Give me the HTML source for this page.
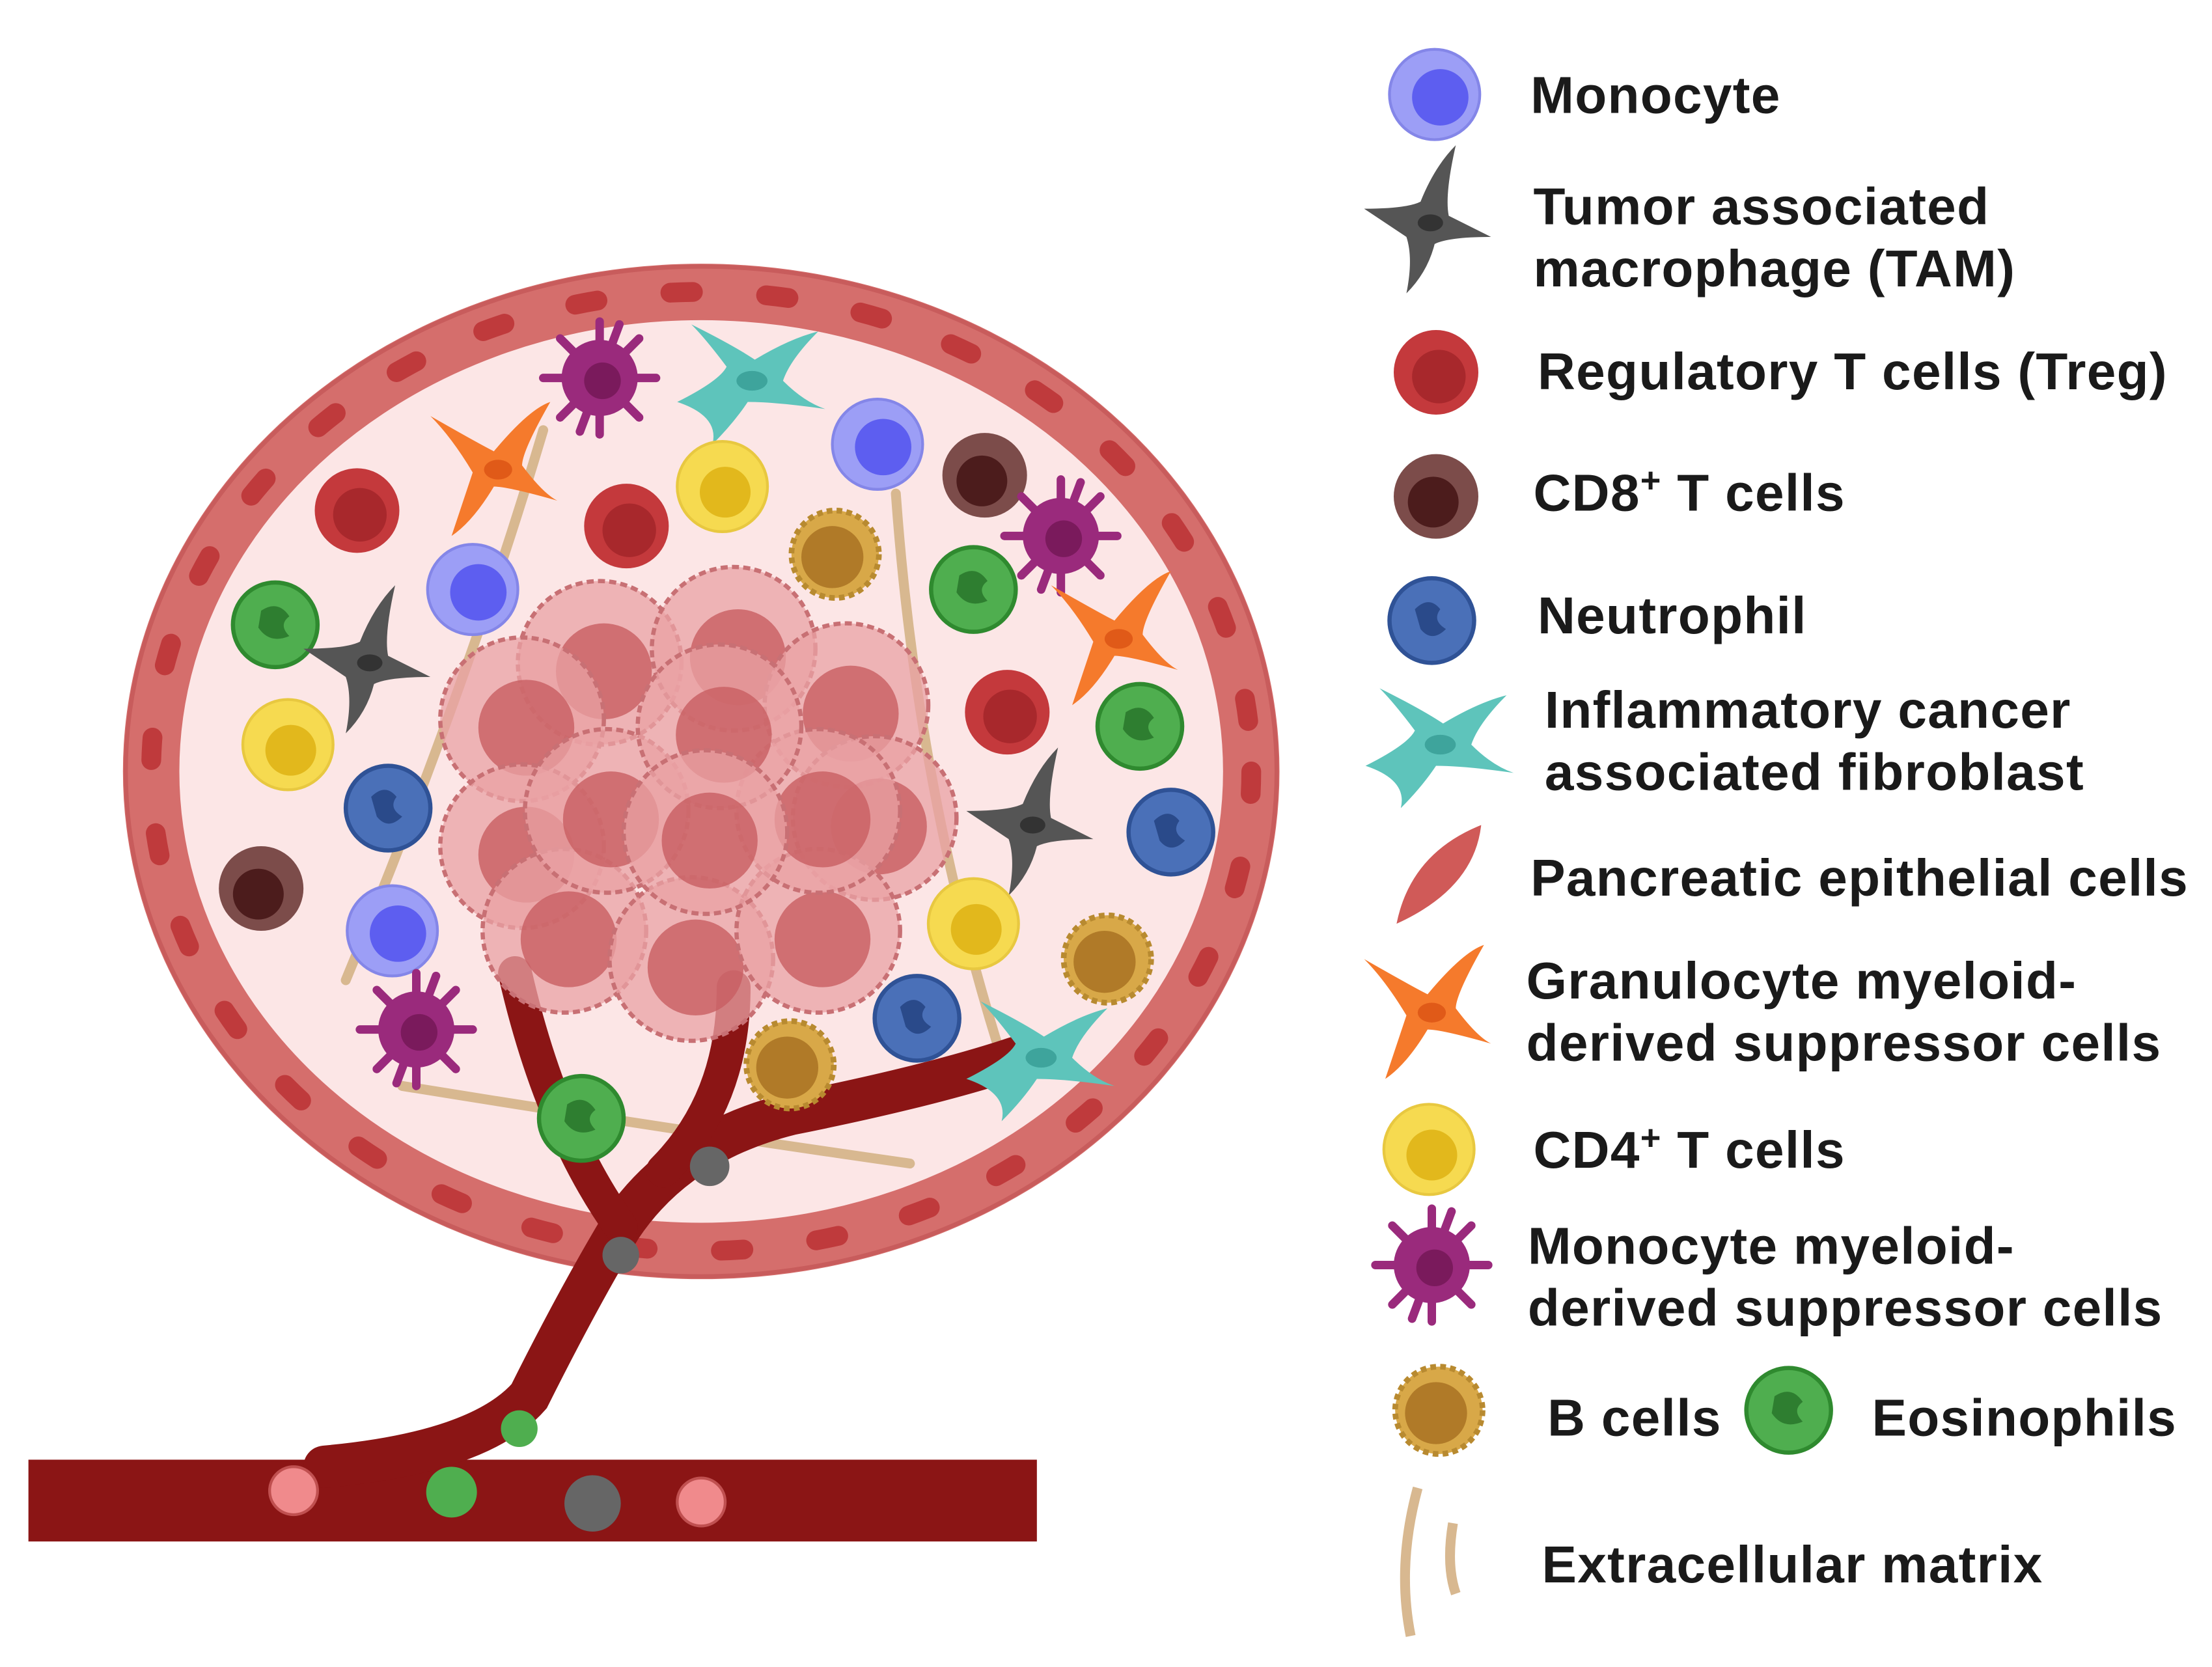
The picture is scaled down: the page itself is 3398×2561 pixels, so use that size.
<!DOCTYPE html>
<html><head><meta charset="utf-8"><style>
html,body{margin:0;padding:0;background:#fff}
svg{display:block}
text{font-family:"Liberation Sans",sans-serif;font-weight:bold;fill:#1a1a1a;font-size:37px;letter-spacing:0.6px}
</style></head><body>
<svg width="3398" height="2561" viewBox="0 0 1568 1182" xmlns="http://www.w3.org/2000/svg">
<defs>
<g id="treg"><circle r="30" fill="#c4393c"/><circle r="19" cx="2" cy="3" fill="#a8282c"/></g>
<g id="mono"><circle r="32" fill="#9c9ef6" stroke="#8486e8" stroke-width="2"/><circle r="20" cx="4" cy="2" fill="#5d5ef0"/></g>
<g id="cd4"><circle r="32" fill="#f6da50" stroke="#e8c840" stroke-width="2"/><circle r="18" cx="2" cy="4" fill="#e2b81c"/></g>
<g id="cd8"><circle r="30" fill="#7c4c4a"/><circle r="18" cx="-2" cy="4" fill="#4c1c1c"/></g>
<g id="neut"><circle r="30" fill="#4a70b8" stroke="#2f5296" stroke-width="3"/><path d="M-12,-8 q10,-10 18,0 q-6,8 4,14 q-10,10 -18,0 z" fill="#2a4a8a"/></g>
<g id="eos"><circle r="30" fill="#4fae4f" stroke="#2f8a2f" stroke-width="3"/><path d="M-10,-10 q12,-8 20,4 q-8,6 0,14 q-14,6 -22,-6 z" fill="#2e7e30"/></g>
<g id="bc"><circle r="31" fill="#d8a848" stroke="#b88a30" stroke-width="4" stroke-dasharray="4 3"/><circle r="22" cx="-2" cy="2" fill="#b07a28"/></g>
<g id="mmdsc" fill="#9a2a7c" stroke="#9a2a7c" stroke-width="6" stroke-linecap="round"><path d="M0,-40V-24M28,-28L16,-16M40,0H24M28,28L16,16M0,40V24M-28,28L-16,16M-40,0H-24M-28,-28L-16,-16M14,-38L8,-22M-14,38L-8,22"/><circle r="27" stroke="none"/><circle r="13" cx="2" cy="2" fill="#7a1a5c" stroke="none"/></g>
<g id="gmdsc"><path d="M-45,-35 Q-10,-15 0,-10 Q25,-40 40,-45 Q20,-10 20,0 Q35,20 45,25 Q10,15 0,15 Q-15,40 -30,50 Q-20,20 -15,5 Q-30,-20 -45,-35z" fill="#f57a2c"/><ellipse cx="3" cy="3" rx="10" ry="7" fill="#e05a18"/></g>
<g id="tam"><path d="M-45,-10 Q-15,-10 -5,-15 Q5,-40 20,-55 Q12,-20 15,-5 Q35,5 45,10 Q15,10 5,15 Q0,35 -15,50 Q-10,25 -15,10 Q-30,0 -45,-10z" fill="#555"/><ellipse cx="2" cy="0" rx="9" ry="6" fill="#333"/></g>
<g id="caf"><path d="M-50,15 Q-20,0 -15,-10 Q-30,-30 -40,-40 Q-10,-25 5,-15 Q30,-30 50,-35 Q30,-15 25,0 Q40,15 55,20 Q20,15 0,15 Q-10,30 -25,45 Q-20,25 -50,15z" fill="#5ec4bb"/><ellipse cx="3" cy="0" rx="11" ry="7" fill="#3ea49c"/></g>
<g id="tum"><circle r="58" fill="#e9a2a4" fill-opacity="0.75" stroke="#c87074" stroke-width="3" stroke-dasharray="5 3"/><circle r="34" cx="3" cy="6" fill="#c85e62" fill-opacity="0.8"/></g>
</defs>

<ellipse cx="497" cy="547" rx="395" ry="345" fill="#fce6e6"/>
<ellipse cx="497" cy="547" rx="390" ry="340" fill="none" stroke="#d56e6c" stroke-width="40"/>
<ellipse cx="497" cy="547" rx="390" ry="340" fill="none" stroke="#bf3a3c" stroke-width="14" stroke-dasharray="16 52" stroke-linecap="round"/>
<ellipse cx="497" cy="547" rx="408" ry="358" fill="none" stroke="#c85c5c" stroke-width="3"/>

<g fill="none" stroke="#d8b890" stroke-width="7" stroke-linecap="round">
<path d="M385,305 Q330,490 245,695"/>
<path d="M635,350 Q650,560 710,750"/>
<path d="M285,770 Q470,800 645,825"/>
</g>

<rect x="20" y="1035" width="715" height="58" fill="#8b1515"/>
<g fill="none" stroke="#8b1515" stroke-linecap="round">
<path d="M230,1040 Q340,1030 375,990 Q410,920 440,870 Q480,810 560,790 Q660,770 720,750" stroke-width="30"/>
<path d="M440,870 Q390,800 365,690" stroke-width="24"/>
<path d="M470,830 Q520,780 520,700" stroke-width="24"/>
</g>
<circle cx="208" cy="1057" r="17" fill="#f08a8c" stroke="#c05050" stroke-width="2"/>
<circle cx="497" cy="1065" r="17" fill="#f08a8c" stroke="#c05050" stroke-width="2"/>
<circle cx="320" cy="1058" r="18" fill="#4fae4f"/>
<circle cx="368" cy="1013" r="13" fill="#4fae4f"/>
<circle cx="420" cy="1066" r="20" fill="#666"/>
<circle cx="503" cy="827" r="14" fill="#666"/>
<circle cx="440" cy="890" r="13" fill="#666"/>

<g>
<use href="#tum" x="425" y="470"/><use href="#tum" x="520" y="460"/><use href="#tum" x="600" y="500"/>
<use href="#tum" x="370" y="510"/><use href="#tum" x="620" y="580"/><use href="#tum" x="370" y="600"/>
<use href="#tum" x="400" y="660"/><use href="#tum" x="490" y="680"/><use href="#tum" x="580" y="660"/>
<use href="#tum" x="430" y="575"/><use href="#tum" x="580" y="575"/><use href="#tum" x="510" y="515"/>
<use href="#tum" x="500" y="590"/>
</g>

<use href="#mmdsc" x="425" y="268"/>
<use href="#caf" x="530" y="270"/>
<use href="#mono" x="622" y="315"/>
<use href="#gmdsc" x="350" y="330"/>
<use href="#cd4" x="512" y="345"/>
<use href="#treg" x="253" y="362"/>
<use href="#treg" x="444" y="373"/>
<use href="#bc" x="592" y="393"/>
<use href="#cd8" x="698" y="337"/>
<use href="#mmdsc" x="752" y="380"/>
<use href="#mono" x="335" y="418"/>
<use href="#eos" x="195" y="443"/>
<use href="#tam" x="260" y="470"/>
<use href="#eos" x="690" y="418"/>
<use href="#gmdsc" x="790" y="450"/>
<use href="#cd4" x="204" y="528"/>
<use href="#treg" x="714" y="505"/>
<use href="#eos" x="808" y="515"/>
<use href="#neut" x="275" y="573"/>
<use href="#tam" x="730" y="585"/>
<use href="#neut" x="830" y="590"/>
<use href="#cd8" x="185" y="630"/>
<use href="#mono" x="278" y="660"/>
<use href="#cd4" x="690" y="655"/>
<use href="#bc" x="785" y="680"/>
<use href="#mmdsc" x="295" y="730"/>
<use href="#neut" x="650" y="722"/>
<use href="#bc" x="560" y="755"/>
<use href="#caf" x="735" y="750"/>
<use href="#eos" x="412" y="793"/>

<use href="#mono" x="1017" y="67"/>
<use href="#tam" x="1012" y="158"/>
<use href="#treg" x="1018" y="264"/>
<use href="#cd8" x="1018" y="352"/>
<use href="#neut" x="1015" y="440"/>
<use href="#caf" x="1018" y="528"/>
<path d="M990,655 Q1000,605 1050,585 Q1045,630 990,655z" fill="#d05a58"/>
<use href="#gmdsc" x="1012" y="715"/>
<use href="#cd4" x="1013" y="815"/>
<use href="#mmdsc" x="1015" y="897"/>
<use href="#bc" x="1020" y="1000"/>
<use href="#eos" x="1268" y="1000"/>
<path d="M1005,1055 Q990,1110 1000,1160" fill="none" stroke="#d8b890" stroke-width="7"/>
<path d="M1030,1080 Q1025,1110 1032,1130" fill="none" stroke="#d8b890" stroke-width="7"/>

<text x="1085" y="80">Monocyte</text>
<text x="1087" y="159">Tumor associated</text>
<text x="1087" y="203">macrophage (TAM)</text>
<text x="1090" y="276">Regulatory T cells (Treg)</text>
<text x="1087" y="362">CD8<tspan font-size="25" dy="-13">+</tspan><tspan dy="13"> T cells</tspan></text>
<text x="1090" y="449">Neutrophil</text>
<text x="1095" y="516">Inflammatory cancer</text>
<text x="1095" y="560">associated fibroblast</text>
<text x="1085" y="635">Pancreatic epithelial cells</text>
<text x="1082" y="708">Granulocyte myeloid-</text>
<text x="1082" y="752">derived suppressor cells</text>
<text x="1087" y="828">CD4<tspan font-size="25" dy="-13">+</tspan><tspan dy="13"> T cells</tspan></text>
<text x="1083" y="896">Monocyte myeloid-</text>
<text x="1083" y="940">derived suppressor cells</text>
<text x="1097" y="1018">B cells</text>
<text x="1327" y="1018">Eosinophils</text>
<text x="1093" y="1122">Extracellular matrix</text>
</svg>
</body></html>
